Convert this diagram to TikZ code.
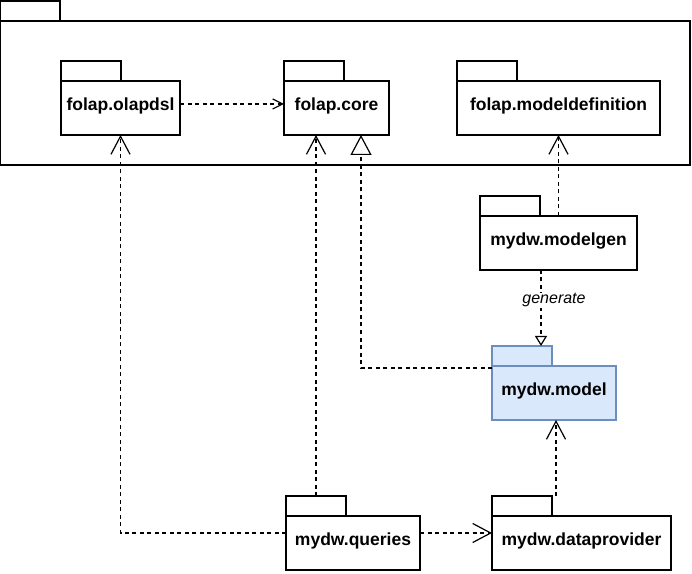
\documentclass[tikz,border=0pt]{standalone}
\usepackage{fontspec}
\setmainfont{Liberation Sans}
\usetikzlibrary{arrows.meta}

\definecolor{modelfill}{HTML}{DAE8FC}
\definecolor{modeldraw}{HTML}{6C8EBF}

\tikzset{
  pkg/.style={draw, line width=1.2pt, rectangle, inner sep=0pt, outer sep=0pt,
    anchor=north west, minimum height=54pt, text height=13pt, text depth=8pt,
    font=\fontsize{17.5}{20}\selectfont\bfseries},
  pkgtab/.style={draw, line width=1.2pt, rectangle, inner sep=0pt, outer sep=0pt,
    anchor=south west, minimum width=60pt, minimum height=20pt},
  dep/.style={line width=1.2pt, dash pattern=on 4pt off 3.5pt},
  uses/.style={dep, -{Straight Barb[length=18pt, width=19pt, line width=1.2pt]}},
  usesmall/.style={dep, -{Straight Barb[length=10pt, width=10pt, line width=1.2pt]}},
  realizes/.style={dep, -{Triangle[open, length=20pt, width=21pt, line width=1.2pt]}},
  gen/.style={dep, -{Triangle[open, length=10pt, width=12pt, line width=1.2pt]}}
}

\begin{document}
\begin{tikzpicture}[x=1pt, y=1pt]
    \useasboundingbox (0,0) rectangle (692,573);

    % outer package
    \node[pkg, minimum width=690pt, minimum height=144pt] (outer) at (0,552) {};
    \node[pkgtab] (outertab) at (outer.north west) {};

    % folap packages
    \node[pkg, minimum width=119pt] (olapdsl) at (61,492) {folap.olapdsl};
    \node[pkgtab] (olapdsltab) at (olapdsl.north west) {};
    \node[pkg, minimum width=105pt] (core) at (284,492) {folap.core};
    \node[pkgtab] (coretab) at (core.north west) {};
    \node[pkg, minimum width=203pt] (modeldef) at (457,492) {folap.modeldefinition};
    \node[pkgtab] (modeldeftab) at (modeldef.north west) {};

    % mydw packages
    \node[pkg, minimum width=157pt] (modelgen) at (480,357) {mydw.modelgen};
    \node[pkgtab] (modelgentab) at (modelgen.north west) {};
    \node[pkg, minimum width=124pt, fill=modelfill, draw=modeldraw] (model) at (492,207) {mydw.model};
    \node[pkgtab, fill=modelfill, draw=modeldraw] (modeltab) at (model.north west) {};
    \node[pkg, minimum width=134pt] (queries) at (286,57) {mydw.queries};
    \node[pkgtab] (queriestab) at (queries.north west) {};
    \node[pkg, minimum width=179pt] (dataprov) at (492,57) {mydw.dataprovider};
    \node[pkgtab] (dataprovtab) at (dataprov.north west) {};

    % dependencies
    \draw[usesmall] ([yshift=4]olapdsl.east) -- ([yshift=4]core.west);
    \draw[uses] ([yshift=10]queries.west) -| (olapdsl.south);
    \draw[uses] (queriestab.north) -- (queriestab.north |- core.south);
    \draw[realizes] ([yshift=-2]model.north west) -| ([xshift=24.5]core.south);
    \draw[uses] (modelgen.north) -- (modeldef.south);
    \draw[gen] ([xshift=-17.5]modelgen.south) -- ([xshift=-17.5]modelgen.south |- modeltab.north)
      node[pos=0.4, fill=white, inner sep=1pt, xshift=13pt, font=\fontsize{16}{18}\selectfont\itshape] {generate};
    \draw[uses] ([xshift=4]dataprovtab.north east) -- ([xshift=4]dataprovtab.north east |- model.south);
    \draw[uses] ([yshift=10]queries.east) -- ([yshift=10]dataprov.west);
\end{tikzpicture}
\end{document}
